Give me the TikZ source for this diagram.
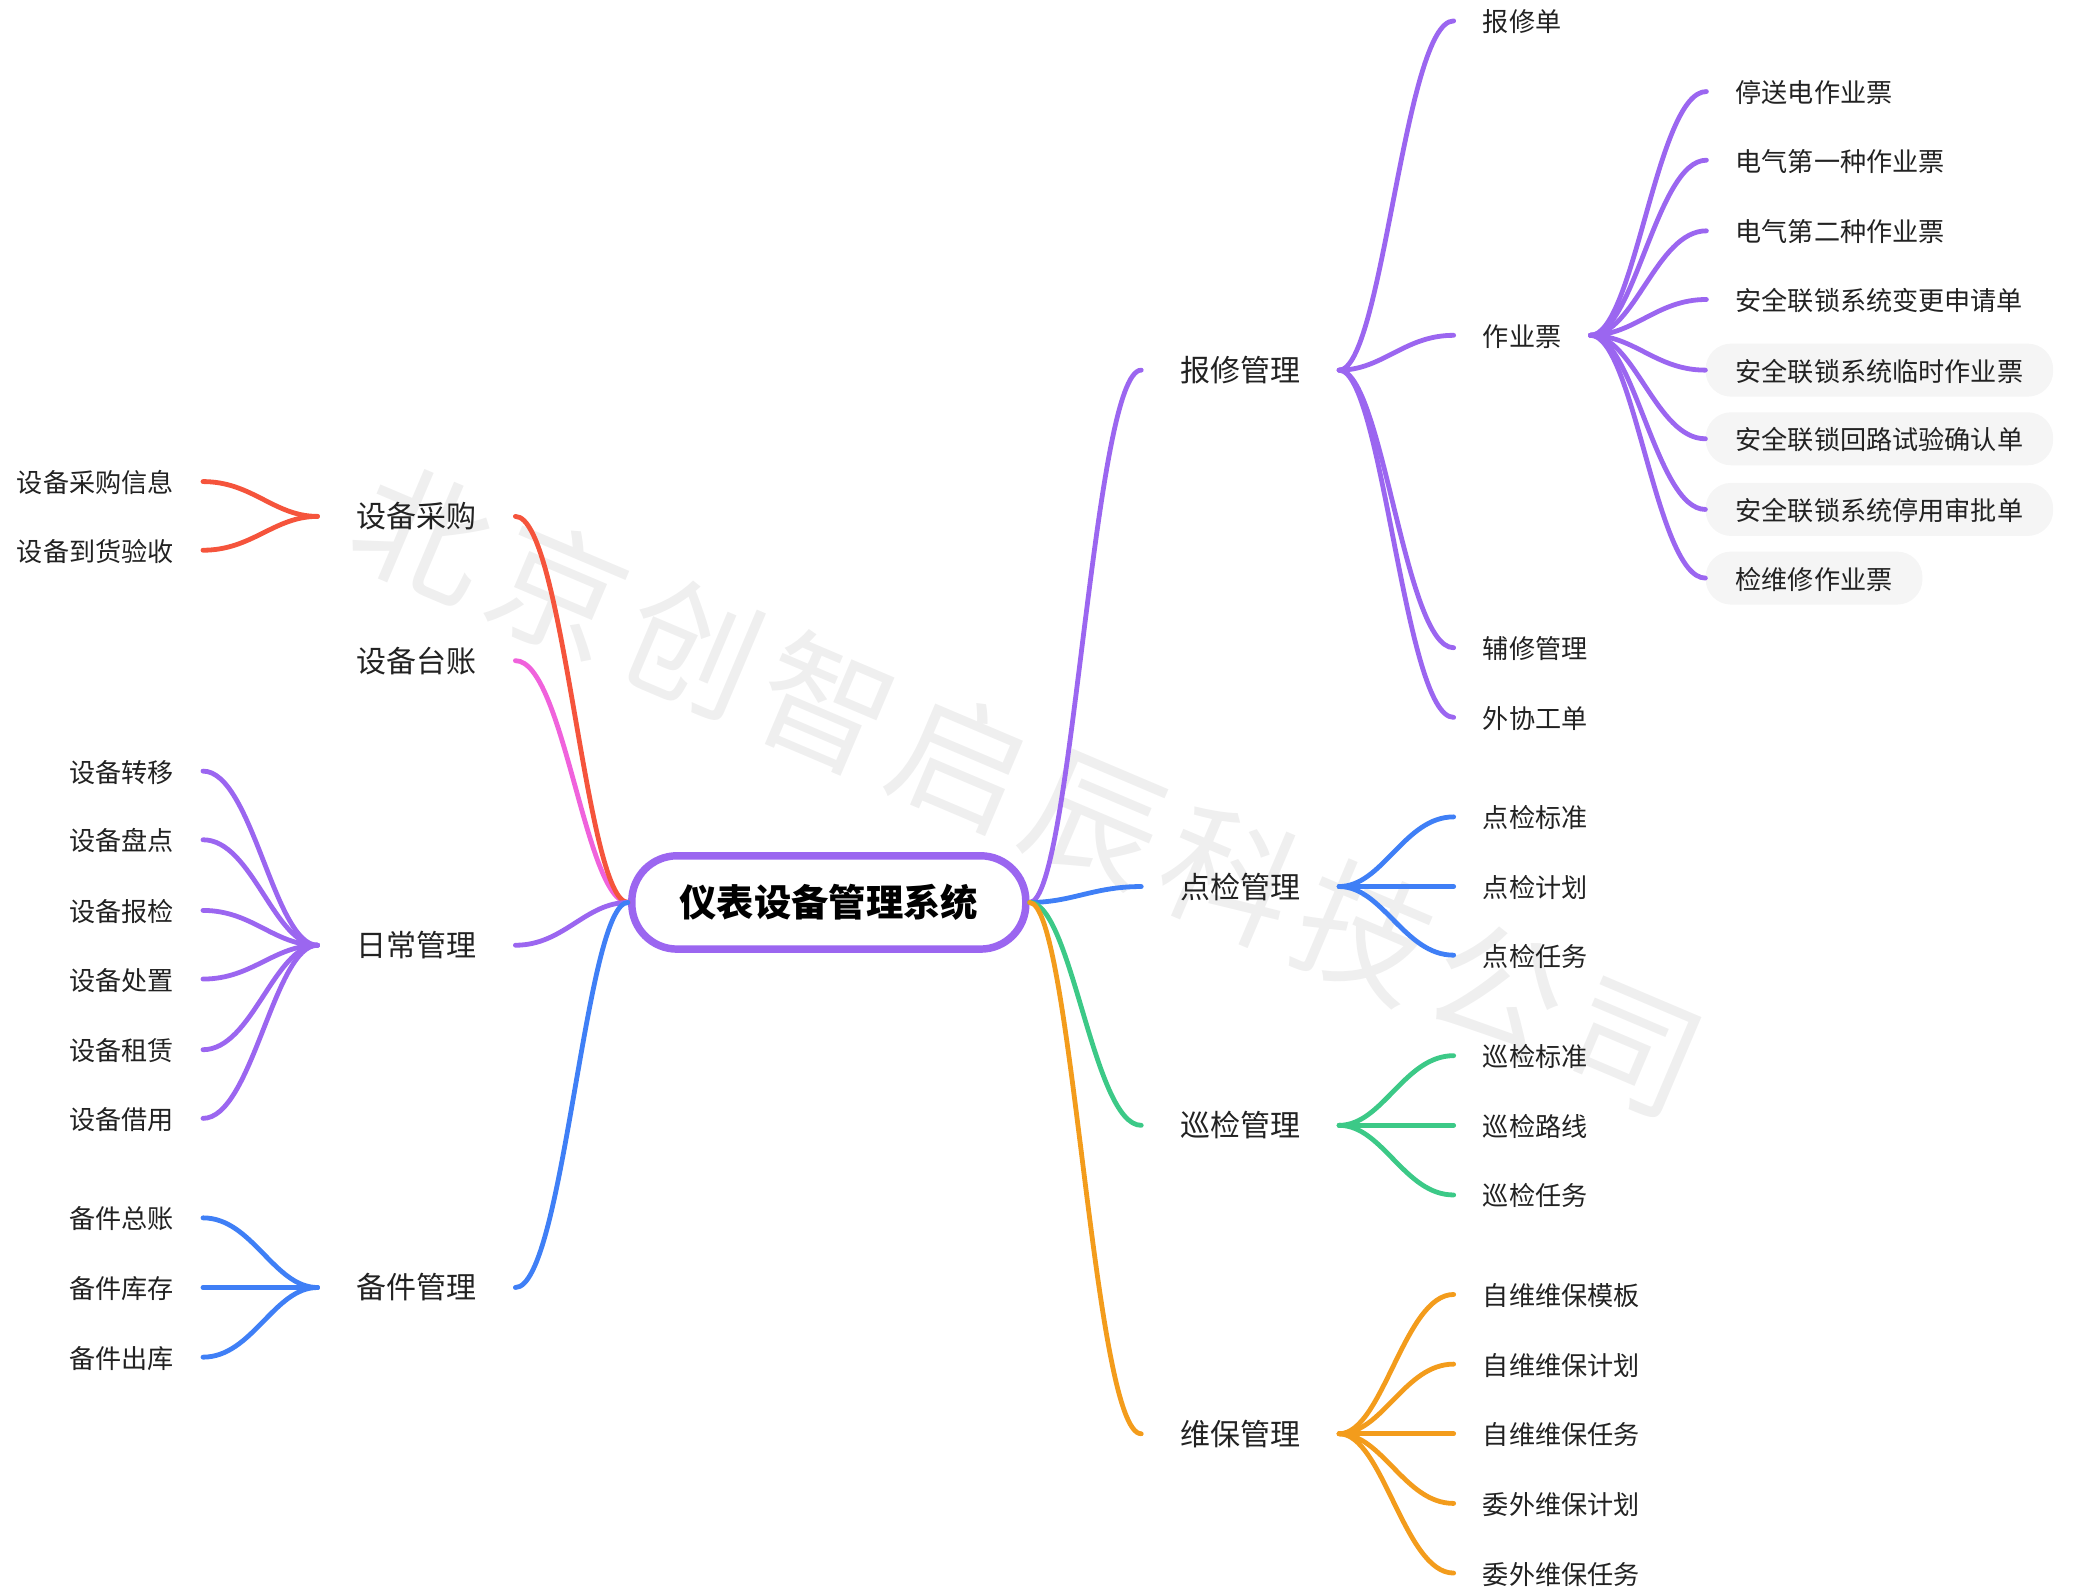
\documentclass[tikz,border=0pt]{standalone}
\usepackage{fontspec}
\setmainfont{Noto Sans CJK SC}
\newfontfamily\wmfont[LetterSpace=9.5]{Noto Sans CJK SC}
\usetikzlibrary{calc}
\definecolor{cpurple}{HTML}{9B66F0}
\definecolor{cred}{HTML}{F5543C}
\definecolor{cpink}{HTML}{F062DC}
\definecolor{cblue}{HTML}{3F7FF6}
\definecolor{cgreen}{HTML}{3CC987}
\definecolor{corange}{HTML}{F39C1C}
\definecolor{cpill}{HTML}{F5F5F5}
\definecolor{cwm}{HTML}{EFEFEF}
\definecolor{ctext}{HTML}{222222}
\tikzset{
  x=0.74622pt,y=-0.74622pt,
  leaf/.style={inner xsep=21.7pt,inner ysep=0pt,minimum height=39.75pt,text height=19pt,text depth=2.5pt,text=ctext,font=\fontsize{19.6}{24}\selectfont},
  mainn/.style={inner xsep=29pt,inner ysep=0pt,minimum height=39.75pt,text=ctext,font=\fontsize{22.5}{27}\selectfont},
  pill/.style={leaf,fill=cpill,rounded corners=19pt},
  rootn/.style={draw=cpurple,line width=5.6pt,fill=white,rounded corners=34pt,minimum width=295.5pt,minimum height=70pt,inner sep=0pt,font=\fontsize{28}{34}\selectfont\bfseries,text=black},
  link/.style={line width=3.6pt,line cap=round,to path={let \p1=(\tikztostart),\p2=(\tikztotarget),\n1={\x1+0.38*(\x2-\x1)},\n2={\x1+0.57*(\x2-\x1)} in .. controls (\n1,\y1) and (\n2,\y2) .. (\tikztotarget)}},
  wm/.style={text=cwm,font=\fontsize{100}{110}\wmfont,rotate=-23,inner sep=0pt}
}
\begin{document}
\begin{tikzpicture}
\useasboundingbox (0,0) rectangle (2090.5,1604);
\node[wm] (wmark) at (1034,793) {北京创智启辰科技公司};

\node[rootn] (root) at (833,907) {仪表设备管理系统};

% left main
\node[mainn,anchor=east] (L1) at (518,519) {设备采购};
\node[mainn,anchor=east] (L2) at (518,664) {设备台账};
\node[mainn,anchor=east] (L3) at (518,950) {日常管理};
\node[mainn,anchor=east] (L4) at (518,1294) {备件管理};
% left leaves
\node[leaf,anchor=east] (a1) at (204,484) {设备采购信息};
\node[leaf,anchor=east] (a2) at (204,553) {设备到货验收};
\node[leaf,anchor=east] (c1) at (204,775) {设备转移};
\node[leaf,anchor=east] (c2) at (204,844) {设备盘点};
\node[leaf,anchor=east] (c3) at (204,915) {设备报检};
\node[leaf,anchor=east] (c4) at (204,984) {设备处置};
\node[leaf,anchor=east] (c5) at (204,1055) {设备租赁};
\node[leaf,anchor=east] (c6) at (204,1124) {设备借用};
\node[leaf,anchor=east] (d1) at (204,1224) {备件总账};
\node[leaf,anchor=east] (d2) at (204,1294) {备件库存};
\node[leaf,anchor=east] (d3) at (204,1364) {备件出库};

% right main
\node[mainn,anchor=west] (R1) at (1147,372) {报修管理};
\node[mainn,anchor=west] (R2) at (1147,891) {点检管理};
\node[mainn,anchor=west] (R3) at (1147,1131) {巡检管理};
\node[mainn,anchor=west] (R4) at (1147,1441) {维保管理};
% right leaves
\node[leaf,anchor=west] (e1) at (1461,21) {报修单};
\node[leaf,anchor=west] (e2) at (1461,337) {作业票};
\node[leaf,anchor=west] (e3) at (1461,651) {辅修管理};
\node[leaf,anchor=west] (e4) at (1461,721) {外协工单};
\node[leaf,anchor=west] (f1) at (1715,92) {停送电作业票};
\node[leaf,anchor=west] (f2) at (1715,161) {电气第一种作业票};
\node[leaf,anchor=west] (f3) at (1715,232) {电气第二种作业票};
\node[leaf,anchor=west] (f4) at (1715,301) {安全联锁系统变更申请单};
\node[pill,anchor=west,inner xsep=22.5pt] (f5) at (1714,372) {安全联锁系统临时作业票};
\node[pill,anchor=west,inner xsep=22.5pt] (f6) at (1714,441) {安全联锁回路试验确认单};
\node[pill,anchor=west,inner xsep=22.5pt] (f7) at (1714,512) {安全联锁系统停用审批单};
\node[pill,anchor=west,inner xsep=22.5pt] (f8) at (1714,581) {检维修作业票};
\node[leaf,anchor=west] (g1) at (1461,821) {点检标准};
\node[leaf,anchor=west] (g2) at (1461,891) {点检计划};
\node[leaf,anchor=west] (g3) at (1461,960) {点检任务};
\node[leaf,anchor=west] (h1) at (1461,1061) {巡检标准};
\node[leaf,anchor=west] (h2) at (1461,1131) {巡检路线};
\node[leaf,anchor=west] (h3) at (1461,1201) {巡检任务};
\node[leaf,anchor=west] (i1) at (1461,1301) {自维维保模板};
\node[leaf,anchor=west] (i2) at (1461,1371) {自维维保计划};
\node[leaf,anchor=west] (i3) at (1461,1441) {自维维保任务};
\node[leaf,anchor=west] (i4) at (1461,1511) {委外维保计划};
\node[leaf,anchor=west] (i5) at (1461,1581) {委外维保任务};

% connectors
\draw[link,cpink] (root.west) to (L2.east);
\draw[link,cred] (root.west) to (L1.east);
\draw[link,cpurple] (root.west) to (L3.east);
\draw[link,cblue] (root.west) to (L4.east);
\foreach \kid in {a1,a2} \draw[link,cred] (L1.west) to (\kid.east);
\foreach \kid in {c1,c2,c3,c4,c5,c6} \draw[link,cpurple] (L3.west) to (\kid.east);
\foreach \kid in {d1,d2,d3} \draw[link,cblue] (L4.west) to (\kid.east);
\draw[link,cpurple] (root.east) to (R1.west);
\draw[link,cblue] (root.east) to (R2.west);
\draw[link,cgreen] (root.east) to (R3.west);
\draw[link,corange] (root.east) to (R4.west);
\foreach \kid in {e1,e2,e3,e4} \draw[link,cpurple] (R1.east) to (\kid.west);
\foreach \kid in {f1,f2,f3,f4,f5,f6,f7,f8} \draw[link,cpurple] (e2.east) to (\kid.west);
\foreach \kid in {g1,g2,g3} \draw[link,cblue] (R2.east) to (\kid.west);
\foreach \kid in {h1,h2,h3} \draw[link,cgreen] (R3.east) to (\kid.west);
\foreach \kid in {i1,i2,i3,i4,i5} \draw[link,corange] (R4.east) to (\kid.west);
\end{tikzpicture}
\end{document}
